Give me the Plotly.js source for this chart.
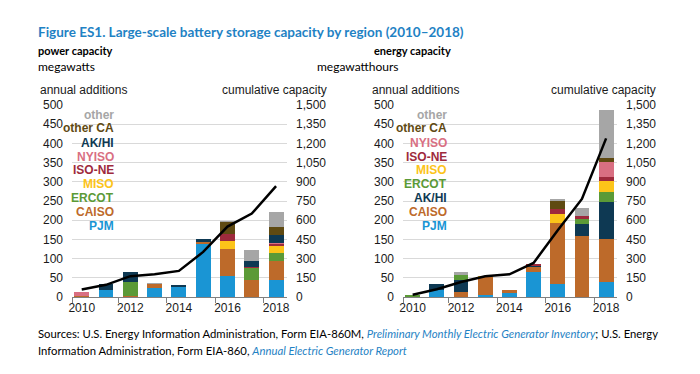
<!DOCTYPE html>
<html><head><meta charset="utf-8">
<script src="https://cdn.plot.ly/plotly-3.0.1.min.js"></script>
<style>html,body{margin:0;padding:0;background:#fff}</style>
</head><body><div id="chart" style="width:700px;height:374px"></div>
<script>
// ---------- data ----------
const years = [2010, 2011, 2012, 2013, 2014, 2015, 2016, 2017, 2018];
const xTickVals = [2010, 2012, 2014, 2016, 2018];
const xTickText = ['2010', '2012', '2014', '2016', '2018'];

// power capacity, annual additions (MW)
const pwPJM    = [0, 17, 0, 23, 26, 138, 54, 0, 43];
const pwCAISO  = [3, 0, 3, 11, 0, 4, 72, 43, 50];
const pwERCOT  = [0, 0, 36, 0, 0, 0, 0, 33, 22];
const pwMISO   = [0, 0, 0, 0, 0, 0, 20, 0, 19];
const pwISONE  = [0, 0, 0, 0, 0, 0, 19, 3, 3];
const pwNYISO  = [10, 0, 0, 0, 0, 0, 0, 0, 3];
const pwAKHI   = [0, 16, 27, 0, 4, 10, 0, 16, 22];
const pwOtherCA= [0, 0, 0, 0, 0, 0, 31, 0, 20];
const pwOther  = [0, 0, 0, 2, 1, 0, 3, 28, 40];
const pwCumulative = [59, 95, 163, 177, 204, 352, 550, 652, 866];

// energy capacity, annual additions (MWh)
const enPJM    = [0, 17, 0, 5, 10, 66, 33, 0, 39];
const enCAISO  = [1, 0, 13, 46, 9, 12, 161, 160, 111];
const enAKHI   = [0, 16, 30, 0, 0, 4, 0, 31, 98];
const enERCOT  = [4, 0, 14, 0, 0, 0, 0, 13, 25];
const enMISO   = [0, 0, 0, 5, 0, 0, 21, 0, 28];
const enISONE  = [0, 0, 0, 0, 0, 3, 14, 8, 11];
const enNYISO  = [0, 0, 0, 0, 0, 0, 0, 0, 40];
const enOtherCA= [0, 0, 0, 0, 0, 0, 21, 0, 10];
const enOther  = [0, 0, 7, 0, 0, 2, 4, 20, 126];
const enCumulative = [18, 60, 117, 162, 177, 266, 522, 766, 1239];

const colors = {
  'PJM': '#1a95d4', 'CAISO': '#bd6a2a', 'ERCOT': '#5b9a37', 'MISO': '#fcc419',
  'ISO-NE': '#9e2a3c', 'NYISO': '#d96f82', 'AK/HI': '#0e3953',
  'other CA': '#5f4a12', 'other': '#a6a6a6'
};

// stack orders (bottom to top)
const powerSeries = [
  ['PJM', pwPJM], ['CAISO', pwCAISO], ['ERCOT', pwERCOT], ['MISO', pwMISO],
  ['ISO-NE', pwISONE], ['NYISO', pwNYISO], ['AK/HI', pwAKHI],
  ['other CA', pwOtherCA], ['other', pwOther]
];
const energySeries = [
  ['PJM', enPJM], ['CAISO', enCAISO], ['AK/HI', enAKHI], ['ERCOT', enERCOT],
  ['MISO', enMISO], ['ISO-NE', enISONE], ['NYISO', enNYISO],
  ['other CA', enOtherCA], ['other', enOther]
];
// legend label orders (top to bottom)
const powerLegend = ['other', 'other CA', 'AK/HI', 'NYISO', 'ISO-NE', 'MISO', 'ERCOT', 'CAISO', 'PJM'];
const energyLegend = ['other', 'other CA', 'NYISO', 'ISO-NE', 'MISO', 'ERCOT', 'AK/HI', 'CAISO', 'PJM'];

// ---------- layout helpers ----------
const W = 700, H = 374;
const px = x => x / W;
const py = y => 1 - y / H;
const AR = 'Liberation Sans, Arial, sans-serif';
const CAL = 'Lato, Carlito, Calibri, sans-serif';

const traces = [];
powerSeries.forEach(([name, vals]) => traces.push({
  type: 'bar', x: years, y: vals, name: name, xaxis: 'x', yaxis: 'y',
  marker: {color: colors[name], line: {width: 0}}, showlegend: false, hoverinfo: 'skip'
}));
traces.push({type: 'scatter', mode: 'lines', x: years, y: pwCumulative, xaxis: 'x', yaxis: 'y2',
  line: {color: '#000', width: 2.5}, showlegend: false, hoverinfo: 'skip'});
energySeries.forEach(([name, vals]) => traces.push({
  type: 'bar', x: years, y: vals, name: name, xaxis: 'x2', yaxis: 'y3',
  marker: {color: colors[name], line: {width: 0}}, showlegend: false, hoverinfo: 'skip'
}));
traces.push({type: 'scatter', mode: 'lines', x: years, y: enCumulative, xaxis: 'x2', yaxis: 'y4',
  line: {color: '#000', width: 2.5}, showlegend: false, hoverinfo: 'skip'});

const tickFont = {family: AR, size: 12, color: '#1a1a1a'};
function xAxis(d0, d1, anchor) {
  return {
    domain: [px(d0), px(d1)], anchor: anchor, range: [2009.6, 2018.45],
    tickvals: xTickVals, ticktext: xTickText, ticks: '', tickfont: tickFont,
    showgrid: false, zeroline: false, showline: true, linecolor: '#808080', linewidth: 1,
    minor: {tickvals: [2009.6, 2011.5, 2013.5, 2015.5, 2017.5], ticks: 'outside', ticklen: 5,
            tickcolor: '#808080', tickwidth: 1, showgrid: false},
    fixedrange: true
  };
}
const yDomain = [py(297), py(105)];
function yLeft(anchor) {
  return {
    domain: yDomain, anchor: anchor, range: [0, 500], tickvals: [0,50,100,150,200,250,300,350,400,450,500],
    tickfont: tickFont, ticks: '', showline: false, zeroline: false,
    showgrid: true, gridcolor: '#d9d9d9', gridwidth: 1, ticklabelstandoff: 8, fixedrange: true
  };
}
function yRight(over, anchor) {
  return {
    overlaying: over, side: 'right', anchor: anchor, range: [0, 1500],
    tickvals: [0,150,300,450,600,750,900,1050,1200,1350,1500], tickformat: ',',
    tickfont: tickFont, ticks: '', showline: false, zeroline: false, showgrid: false,
    ticklabelstandoff: 8, fixedrange: true
  };
}

const ann = [];
function txt(text, x, y, opts) {
  ann.push(Object.assign({
    text: text, x: px(x), y: py(y), xref: 'paper', yref: 'paper',
    xanchor: 'left', yanchor: 'middle', showarrow: false,
    font: {family: AR, size: 12, color: '#1a1a1a'}
  }, opts || {}));
}
txt('<b>Figure ES1. Large-scale battery storage capacity by region (2010–2018)</b>', 36, 32,
    {font: {family: CAL, size: 13.5, color: '#1f82c4'}});
txt('<b>power capacity</b>', 36, 50.5, {font: {family: CAL, size: 11, color: '#000'}});
txt('megawatts', 36, 66, {font: {family: CAL, size: 12, color: '#000'}});
txt('<b>energy capacity</b>', 372, 50.5, {font: {family: CAL, size: 11, color: '#000'}});
txt('megawatthours', 315, 66, {font: {family: CAL, size: 12, color: '#000'}});
txt('annual additions', 38, 90.5);
txt('cumulative capacity', 329, 90.5, {xanchor: 'right'});
txt('annual additions', 370, 90.5);
txt('cumulative capacity', 658, 90.5, {xanchor: 'right'});

const legY = [114.7, 128.5, 142.7, 156.7, 170.5, 184.3, 197.8, 211.7, 225.7];
powerLegend.forEach((n, i) => txt('<b>' + n + '</b>', 116, legY[i],
  {xanchor: 'right', font: {family: AR, size: 12, color: colors[n]}}));
energyLegend.forEach((n, i) => txt('<b>' + n + '</b>', 449, legY[i],
  {xanchor: 'right', font: {family: AR, size: 12, color: colors[n]}}));

const blue = '#1f82c4';
txt('Sources: U.S. Energy Information Administration, Form EIA-860M, <i><span style="color:' + blue +
    '">Preliminary Monthly Electric Generator Inventory</span></i>; U.S. Energy', 36, 333,
    {font: {family: CAL, size: 11.3, color: '#000'}});
txt('Information Administration, Form EIA-860, <i><span style="color:' + blue +
    '">Annual Electric Generator Report</span></i>', 36, 350,
    {font: {family: CAL, size: 11.3, color: '#000'}});

const layout = {
  width: W, height: H, margin: {l: 0, r: 0, t: 0, b: 0},
  paper_bgcolor: '#fff', plot_bgcolor: 'rgba(0,0,0,0)',
  barmode: 'stack', bargap: 0.385, showlegend: false,
  xaxis: xAxis(72, 287, 'y'),
  yaxis: yLeft('x'),
  yaxis2: yRight('y', 'x'),
  xaxis2: xAxis(403, 617, 'y3'),
  yaxis3: yLeft('x2'),
  yaxis4: yRight('y3', 'x2'),
  annotations: ann
};
Plotly.newPlot('chart', traces, layout, {staticPlot: true, displayModeBar: false});
</script>
</body></html>
